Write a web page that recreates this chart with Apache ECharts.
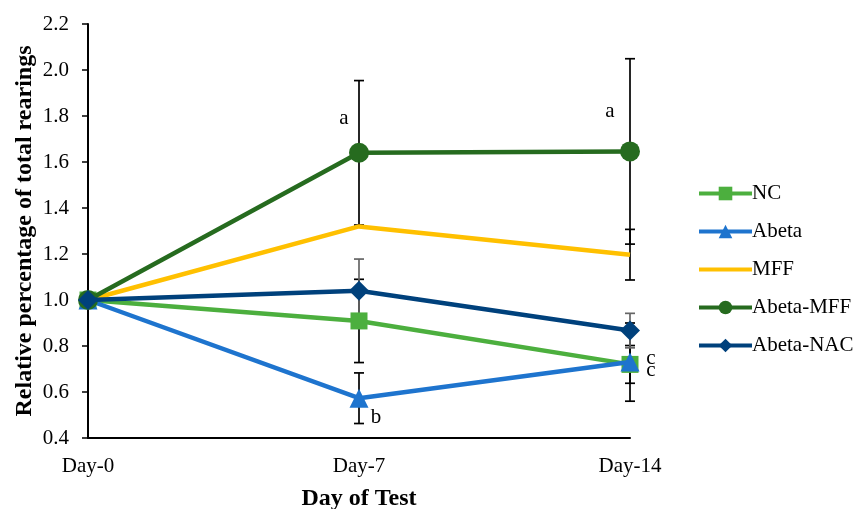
<!DOCTYPE html>
<html><head><meta charset="utf-8">
<script src="https://cdn.jsdelivr.net/npm/echarts@6/dist/echarts.min.js"></script>
<style>html,body{margin:0;padding:0;background:#fff}#c{width:857px;height:509px}</style>
</head><body><div id="c"></div>
<script>
// ---- data ----
const categories = ['Day-0', 'Day-7', 'Day-14'];
const seriesNames = ['NC', 'Abeta', 'MFF', 'Abeta-MFF', 'Abeta-NAC'];
const ncValues = [1.0, 0.909, 0.72];
const abetaValues = [1.0, 0.573, 0.73];
const mffValues = [1.0, 1.32, 1.197];
const abetaMffValues = [1.0, 1.64, 1.646];
const abetaNacValues = [1.0, 1.04, 0.867];
const ncErrors = [0, 0.181, 0.082];
const abetaErrors = [0, 0.11, 0.17];
const mffErrors = [0, 0, 0.11];
const abetaMffErrors = [0, 0.314, 0.403];
const abetaNacErrors = [0, 0.138, 0.075];
const ncLetters = ['', '', 'c'];
const abetaLetters = ['', 'b', 'c'];
const mffLetters = ['', '', ''];
const abetaMffLetters = ['', 'a', 'a'];
const abetaNacLetters = ['', '', ''];
const yAxisTitle = 'Relative percentage of total rearings';
const xAxisTitle = 'Day of Test';

// ---- styles ----
const FONT = '"Liberation Serif", "Times New Roman", serif';
const defs = [
  {name: seriesNames[0], values: ncValues, errors: ncErrors, letters: ncLetters, color: '#4CAF3E', symbol: 'rect', size: 17, errColor: '#000',
   letterOffsets: [null, null, [21, 6]]},
  {name: seriesNames[1], values: abetaValues, errors: abetaErrors, letters: abetaLetters, color: '#1E74CE', symbol: 'triangle', size: 19, errColor: '#000',
   letterOffsets: [null, [17, 19], [21, -4]]},
  {name: seriesNames[2], values: mffValues, errors: mffErrors, letters: mffLetters, color: '#FFC000', symbol: 'none', size: 0, errColor: '#000',
   letterOffsets: [null, null, null]},
  {name: seriesNames[3], values: abetaMffValues, errors: abetaMffErrors, letters: abetaMffLetters, color: '#266B1F', symbol: 'circle', size: 20, errColor: '#000',
   letterOffsets: [null, [-15, -34], [-20, -40]]},
  {name: seriesNames[4], values: abetaNacValues, errors: abetaNacErrors, letters: abetaNacLetters, color: '#00417C', symbol: 'diamond', size: 20, errColor: '#666',
   letterOffsets: [null, null, null]}
];

const series = [];
defs.forEach((d) => {
  series.push({
    type: 'custom',
    silent: true,
    z: 1,
    renderItem: function (params, api) {
      const x = api.value(0), lo = api.value(1), hi = api.value(2);
      const t = api.coord([x, hi]), b = api.coord([x, lo]);
      const w = 5;
      const st = {stroke: d.errColor, lineWidth: 1.7};
      return {type: 'group', children: [
        {type: 'line', shape: {x1: t[0], y1: t[1], x2: b[0], y2: b[1]}, style: st},
        {type: 'line', shape: {x1: t[0] - w, y1: t[1], x2: t[0] + w, y2: t[1]}, style: st},
        {type: 'line', shape: {x1: b[0] - w, y1: b[1], x2: b[0] + w, y2: b[1]}, style: st}
      ]};
    },
    encode: {x: 0, y: [1, 2]},
    data: d.values.map((v, i) => [i, v - d.errors[i], v + d.errors[i]]).filter(r => r[2] > r[1])
  });
});
defs.forEach((d, k) => {
  series.push({
    type: 'line',
    name: d.name,
    z: 2 + k,
    symbol: d.symbol,
    symbolSize: d.size,
    showAllSymbol: true,
    lineStyle: {color: d.color, width: 4.5},
    itemStyle: {color: d.color},
    emphasis: {disabled: true},
    data: d.values.map((v, i) => {
      const item = {value: v};
      if (d.letters[i]) {
        item.label = {show: true, formatter: d.letters[i], position: 'inside', offset: d.letterOffsets[i],
          color: '#000', fontFamily: FONT, fontSize: 21};
      }
      return item;
    })
  });
});

const legendData = defs.map(d => d.symbol === 'none'
  ? {name: d.name, itemStyle: {opacity: 0}}
  : {name: d.name});

const chart = echarts.init(document.getElementById('c'), null, {renderer: 'canvas'});
chart.setOption({
  animation: false,
  backgroundColor: '#fff',
  grid: {left: 88, right: 227, top: 24, bottom: 71, outerBoundsMode: 'none', containLabel: false},
  legend: {
    data: legendData,
    orient: 'vertical',
    left: 692,
    top: 178,
    itemWidth: 53,
    itemHeight: 17,
    itemGap: 17,
    lineStyle: {width: 4},
    textStyle: {color: '#000', fontFamily: FONT, fontSize: 21, padding: [0, 0, 0, -5]}
  },
  xAxis: {
    type: 'category',
    data: categories,
    boundaryGap: false,
    axisLine: {lineStyle: {color: '#000', width: 2}},
    axisTick: {show: false},
    axisLabel: {color: '#000', fontFamily: FONT, fontSize: 21, margin: 18},
    splitLine: {show: false},
    name: xAxisTitle,
    nameLocation: 'middle',
    nameGap: 49,
    nameMoveOverlap: false,
    nameTextStyle: {color: '#000', fontFamily: FONT, fontSize: 24, fontWeight: 'bold'}
  },
  yAxis: {
    type: 'value',
    min: 0.4,
    max: 2.2,
    interval: 0.2,
    axisLine: {show: true, lineStyle: {color: '#000', width: 2}},
    axisTick: {show: true, length: 6, lineStyle: {color: '#000', width: 1.5}},
    axisLabel: {color: '#000', fontFamily: FONT, fontSize: 21, margin: 19, formatter: v => v.toFixed(1)},
    splitLine: {show: false},
    name: yAxisTitle,
    nameLocation: 'middle',
    nameGap: 51,
    nameRotate: 90,
    nameMoveOverlap: false,
    nameTextStyle: {color: '#000', fontFamily: FONT, fontSize: 24, fontWeight: 'bold'}
  },
  series: series
});
</script>
</body></html>
